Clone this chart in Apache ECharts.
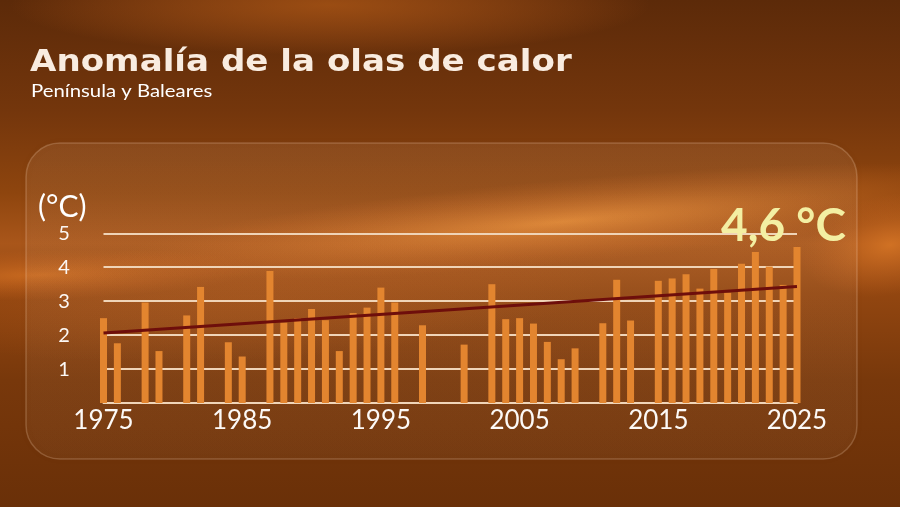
<!DOCTYPE html>
<html>
<head>
<meta charset="utf-8">
<script src="https://cdn.jsdelivr.net/npm/echarts@6/dist/echarts.min.js"></script>
<style>
html,body{margin:0;padding:0;background:#6b3008;}
#chart{width:900px;height:507px;}
</style>
</head>
<body>
<div id="chart"></div>
<script>
// ---- data ----
const categories = ['1975','1976','1977','1978','1979','1980','1981','1982','1983','1984',
  '1985','1986','1987','1988','1989','1990','1991','1992','1993','1994',
  '1995','1996','1997','1998','1999','2000','2001','2002','2003','2004',
  '2005','2006','2007','2008','2009','2010','2011','2012','2013','2014',
  '2015','2016','2017','2018','2019','2020','2021','2022','2023','2024','2025'];
const anomaly = [2.50, 1.76, null, 2.96, 1.53, null, 2.58, 3.42, null, 1.79,
  1.37, null, 3.89, 2.37, 2.50, 2.77, 2.44, 1.53, 2.65, 2.81,
  3.40, 2.96, null, 2.29, null, null, 1.72, null, 3.50, 2.47,
  2.50, 2.34, 1.80, 1.29, 1.61, null, 2.35, 3.63, 2.43, null,
  3.60, 3.67, 3.79, 3.37, 3.95, 3.25, 4.10, 4.45, 4.02, 3.48, 4.60];
const trendYears = ['1975', '2025'];
const trendValues = [2.06, 3.43];
const xTickLabels = ['1975','1985','1995','2005','2015','2025'];
const titleText = 'Anomalía de la olas de calor';
const subtitleText = 'Península y Baleares';
const unitText = '(°C)';
const highlightText = '4,6 °C';

const chart = echarts.init(document.getElementById('chart'));
const G = echarts.graphic;

function glow(cx, cy, sx, sy, rot, color) {
  return {
    type: 'circle', z: 0, silent: true,
    x: cx, y: cy, scaleX: sx, scaleY: sy, rotation: rot,
    shape: {cx: 0, cy: 0, r: 100},
    style: {fill: new G.RadialGradient(0.5, 0.5, 0.5, [
      {offset: 0, color: color},
      {offset: 1, color: 'rgba(200,100,30,0)'}
    ])}
  };
}

const option = {
  backgroundColor: 'transparent',
  animation: false,
  graphic: [
    {type: 'rect', z: -1, silent: true, shape: {x: 0, y: 0, width: 900, height: 507},
      style: {fill: new G.LinearGradient(0, 0, 0, 1, [
        {offset: 0, color: '#5c2a09'},
        {offset: 0.22, color: '#74360c'},
        {offset: 0.38, color: '#8e450e'},
        {offset: 0.48, color: '#a9561a'},
        {offset: 0.58, color: '#924610'},
        {offset: 0.75, color: '#78380b'},
        {offset: 1, color: '#6a3008'}
      ])}},
    glow(330, 5, 3.2, 0.5, 0, 'rgba(175,88,22,0.75)'),
    glow(560, 222, 4.6, 0.42, 0.09, 'rgba(232,140,52,0.85)'),
    glow(40, 275, 2.2, 0.25, 0.03, 'rgba(215,115,35,0.75)'),
    glow(890, 245, 0.9, 0.5, 0.2, 'rgba(225,125,40,0.7)'),
    glow(250, 300, 3.5, 0.6, 0.05, 'rgba(180,90,25,0.35)'),
    {type: 'rect', z: 1, silent: true,
      shape: {x: 26, y: 143, width: 831, height: 316, r: 34},
      style: {fill: new G.LinearGradient(0, 0, 0, 1, [
        {offset: 0, color: 'rgba(255,210,170,0.10)'},
        {offset: 1, color: 'rgba(255,210,170,0.05)'}
      ]), stroke: 'rgba(255,225,195,0.22)', lineWidth: 1.5,
      shadowColor: 'rgba(60,20,0,0.25)', shadowBlur: 10}},
    {type: 'text', z: 10, silent: true, x: 30, y: 63, scaleX: 1.1,
      style: {text: titleText, font: 'bold 31px "DejaVu Sans"', textVerticalAlign: 'middle',
        fill: '#f9ece0', shadowColor: 'rgba(90,40,5,0.35)', shadowBlur: 4}},
    {type: 'text', z: 10, silent: true, x: 31, y: 91, scaleX: 1.13,
      style: {text: subtitleText, font: '18px Lato', fill: '#ffffff', textVerticalAlign: 'middle'}},
    {type: 'text', z: 10, silent: true, x: 38, y: 207,
      style: {text: unitText, font: '30px Lato', fill: '#ffffff', textVerticalAlign: 'middle'}},
    {type: 'text', z: 10, silent: true, x: 721, y: 226,
      style: {text: highlightText, font: 'bold 46px Lato', fill: '#f3efa3', textVerticalAlign: 'middle'}}
  ],
  grid: {left: 103.5, right: 103, top: 233.3, bottom: 104, containLabel: false},
  xAxis: {
    type: 'category', data: categories, boundaryGap: false,
    axisLine: {show: true, lineStyle: {color: '#f2d8bc', width: 2}},
    axisTick: {show: false},
    axisLabel: {
      interval: 0, color: '#ffffff', fontFamily: 'Lato', fontSize: 26, margin: 5,
      formatter: function (v) { return xTickLabels.indexOf(v) >= 0 ? v : ''; }
    },
    splitLine: {show: false}
  },
  yAxis: {
    type: 'value', min: 0, max: 5, interval: 1,
    axisLine: {show: false}, axisTick: {show: false},
    axisLabel: {color: '#ffffff', fontFamily: 'Lato', fontSize: 20, showMinLabel: false,
      align: 'center', margin: 39.5},
    splitLine: {lineStyle: {color: '#f2d8bc', width: 2}}
  },
  series: [
    {type: 'bar', data: anomaly, barWidth: 7, clip: false, z: 3,
      itemStyle: {color: '#e3852f'}},
    {type: 'line', data: trendYears.map((y, i) => [y, trendValues[i]]), z: 4,
      symbol: 'none', clip: false,
      lineStyle: {color: '#6e0e0b', width: 3}}
  ]
};
chart.setOption(option);
</script>
</body>
</html>
